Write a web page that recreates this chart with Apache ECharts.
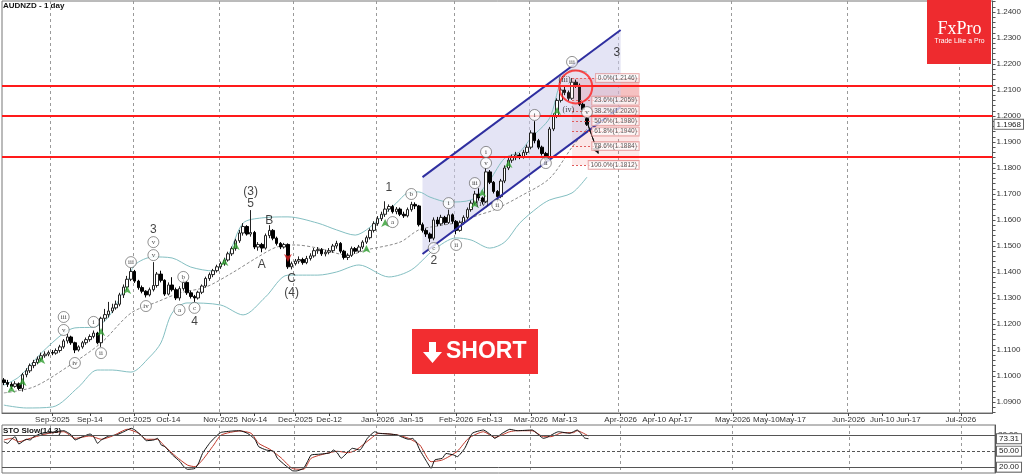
<!DOCTYPE html>
<html><head><meta charset="utf-8">
<script src="https://cdn.jsdelivr.net/npm/echarts@6/dist/echarts.min.js"></script>
<style>html,body{margin:0;padding:0;background:#fff}#c{width:1024px;height:474px}</style>
</head><body><div id="c"></div>
<script>
// ---------- categories (trading days, then calendar days after last candle) ----------
const startDate = '2025-08-13', lastCandleDate = '2026-03-23', endDate = '2026-07-09';
const holidays = ['2025-12-25', '2026-01-01'];
function fmt(d) { return d.toISOString().slice(0, 10); }
const categories = [];
(function () {
  let d = new Date(startDate + 'T00:00:00Z');
  while (fmt(d) <= lastCandleDate) {
    const wd = d.getUTCDay();
    if (wd !== 0 && wd !== 6 && holidays.indexOf(fmt(d)) < 0) categories.push(fmt(d));
    d.setUTCDate(d.getUTCDate() + 1);
  }
  while (fmt(d) <= endDate) { categories.push(fmt(d)); d.setUTCDate(d.getUTCDate() + 1); }
})();

// ---------- tick labels ----------
const tickLabels = [
  ['Sep-2025', '2025-09-01'], ['Sep-14', '2025-09-14'], ['Oct-2025', '2025-10-01'], ['Oct-14', '2025-10-14'],
  ['Nov-2025', '2025-11-01'], ['Nov-14', '2025-11-14'], ['Dec-2025', '2025-12-01'], ['Dec-12', '2025-12-12'],
  ['Jan-2026', '2026-01-01'], ['Jan-15', '2026-01-15'], ['Feb-2026', '2026-02-01'], ['Feb-13', '2026-02-13'],
  ['Mar-2026', '2026-03-01'], ['Mar-13', '2026-03-13'], ['Apr-2026', '2026-04-01'], ['Apr-10', '2026-04-10'],
  ['Apr-17', '2026-04-17'], ['May-2026', '2026-05-01'], ['May-10', '2026-05-10'], ['May-17', '2026-05-17'],
  ['Jun-2026', '2026-06-01'], ['Jun-10', '2026-06-10'], ['Jun-17', '2026-06-17'], ['Jul-2026', '2026-07-01']
];
const priceTicks = [1.09, 1.10, 1.11, 1.12, 1.13, 1.14, 1.15, 1.16, 1.17, 1.18, 1.19, 1.20, 1.21, 1.22, 1.23, 1.24];

// ---------- candles: [open, close, low, high] ----------
const candles = [
[1.0985,1.0975,1.0965,1.0992],[1.0975,1.0968,1.0958,1.0985],[1.0968,1.0960,1.0950,1.0976],[1.0960,1.0970,1.0955,1.0980],
[1.0970,1.0952,1.0945,1.0975],[1.0952,1.1005,1.0940,1.1012],[1.1005,1.1020,1.0995,1.1030],[1.1020,1.1040,1.1012,1.1048],
[1.1040,1.1052,1.1030,1.1062],[1.1052,1.1065,1.1045,1.1075],[1.1065,1.1078,1.1058,1.1090],[1.1078,1.1084,1.1070,1.1095],
[1.1084,1.1090,1.1076,1.1098],[1.1090,1.1088,1.1080,1.1100],[1.1088,1.1098,1.1082,1.1106],[1.1098,1.1112,1.1090,1.1120],
[1.1112,1.1135,1.1105,1.1142],[1.1135,1.1150,1.1125,1.1162],[1.1150,1.1128,1.1120,1.1155],[1.1128,1.1100,1.1088,1.1132],
[1.1100,1.1112,1.1094,1.1118],[1.1112,1.1128,1.1105,1.1135],[1.1128,1.1140,1.1120,1.1148],[1.1140,1.1152,1.1132,1.1160],
[1.1152,1.1165,1.1145,1.1175],[1.1165,1.1128,1.1122,1.1170],[1.1128,1.1222,1.1112,1.1228],[1.1222,1.1236,1.1210,1.1258],
[1.1236,1.1250,1.1225,1.1285],[1.1250,1.1262,1.1242,1.1278],[1.1262,1.1276,1.1255,1.1290],[1.1276,1.1312,1.1268,1.1320],
[1.1312,1.1342,1.1300,1.1352],[1.1342,1.1372,1.1330,1.1385],[1.1372,1.1402,1.1365,1.1415],[1.1402,1.1365,1.1358,1.1408],
[1.1365,1.1340,1.1332,1.1370],[1.1340,1.1326,1.1318,1.1348],[1.1326,1.1312,1.1302,1.1330],[1.1312,1.1332,1.1306,1.1340],
[1.1332,1.1348,1.1325,1.1438],[1.1348,1.1392,1.1340,1.1400],[1.1392,1.1368,1.1360,1.1405],[1.1368,1.1315,1.1308,1.1372],
[1.1315,1.1350,1.1310,1.1360],[1.1350,1.1332,1.1325,1.1380],[1.1332,1.1300,1.1292,1.1340],[1.1300,1.1336,1.1290,1.1345],
[1.1336,1.1360,1.1328,1.1372],[1.1360,1.1320,1.1312,1.1365],[1.1320,1.1306,1.1298,1.1328],[1.1306,1.1300,1.1285,1.1312],
[1.1300,1.1322,1.1294,1.1328],[1.1322,1.1346,1.1315,1.1352],[1.1346,1.1375,1.1340,1.1382],[1.1375,1.1390,1.1366,1.1398],
[1.1390,1.1405,1.1380,1.1412],[1.1405,1.1420,1.1398,1.1428],[1.1420,1.1432,1.1412,1.1440],[1.1432,1.1446,1.1424,1.1455],
[1.1446,1.1470,1.1440,1.1478],[1.1470,1.1490,1.1462,1.1498],[1.1490,1.1520,1.1482,1.1528],[1.1520,1.1550,1.1512,1.1562],
[1.1550,1.1575,1.1540,1.1588],[1.1575,1.1546,1.1540,1.1580],[1.1546,1.1552,1.1536,1.1638],[1.1552,1.1496,1.1488,1.1558],
[1.1496,1.1506,1.1482,1.1515],[1.1506,1.1492,1.1476,1.1512],[1.1492,1.1540,1.1486,1.1548],[1.1540,1.1560,1.1530,1.1580],
[1.1560,1.1530,1.1522,1.1565],[1.1530,1.1510,1.1502,1.1536],[1.1510,1.1496,1.1488,1.1515],[1.1496,1.1506,1.1490,1.1512],
[1.1506,1.1420,1.1412,1.1510],[1.1420,1.1432,1.1410,1.1440],[1.1432,1.1442,1.1425,1.1450],[1.1442,1.1448,1.1432,1.1460],
[1.1448,1.1436,1.1428,1.1455],[1.1436,1.1452,1.1430,1.1462],[1.1452,1.1462,1.1444,1.1472],[1.1462,1.1482,1.1455,1.1492],
[1.1482,1.1486,1.1470,1.1496],[1.1486,1.1470,1.1462,1.1492],[1.1470,1.1476,1.1460,1.1486],[1.1476,1.1482,1.1468,1.1492],
[1.1482,1.1500,1.1474,1.1508],[1.1500,1.1510,1.1490,1.1520],[1.1510,1.1480,1.1472,1.1515],[1.1480,1.1456,1.1448,1.1485],
[1.1456,1.1464,1.1446,1.1472],[1.1464,1.1490,1.1458,1.1498],[1.1490,1.1480,1.1470,1.1496],[1.1480,1.1496,1.1474,1.1504],
[1.1496,1.1515,1.1488,1.1522],[1.1515,1.1532,1.1508,1.1540],[1.1532,1.1560,1.1525,1.1568],[1.1560,1.1586,1.1552,1.1595],
[1.1586,1.1605,1.1578,1.1615],[1.1605,1.1622,1.1596,1.1632],[1.1622,1.1642,1.1612,1.1672],[1.1642,1.1652,1.1632,1.1660],
[1.1652,1.1632,1.1625,1.1658],[1.1632,1.1642,1.1622,1.1650],[1.1642,1.1622,1.1615,1.1648],[1.1622,1.1616,1.1608,1.1632],
[1.1616,1.1640,1.1610,1.1648],[1.1640,1.1660,1.1632,1.1670],[1.1660,1.1654,1.1642,1.1668],[1.1654,1.1582,1.1575,1.1658],
[1.1582,1.1560,1.1552,1.1590],[1.1560,1.1546,1.1535,1.1568],[1.1546,1.1530,1.1515,1.1552],[1.1530,1.1600,1.1522,1.1610],
[1.1600,1.1585,1.1576,1.1612],[1.1585,1.1610,1.1578,1.1620],[1.1610,1.1590,1.1582,1.1616],[1.1590,1.1620,1.1585,1.1640],
[1.1620,1.1595,1.1586,1.1625],[1.1595,1.1560,1.1545,1.1600],[1.1560,1.1590,1.1555,1.1598],[1.1590,1.1610,1.1582,1.1618],
[1.1610,1.1640,1.1602,1.1648],[1.1640,1.1665,1.1632,1.1675],[1.1665,1.1700,1.1658,1.1712],[1.1700,1.1685,1.1675,1.1722],
[1.1685,1.1670,1.1660,1.1690],[1.1670,1.1785,1.1665,1.1800],[1.1785,1.1745,1.1738,1.1792],[1.1745,1.1710,1.1702,1.1750],
[1.1710,1.1690,1.1670,1.1715],[1.1690,1.1750,1.1684,1.1758],[1.1750,1.1800,1.1742,1.1810],[1.1800,1.1830,1.1792,1.1840],
[1.1830,1.1840,1.1820,1.1852],[1.1840,1.1850,1.1830,1.1862],[1.1850,1.1844,1.1834,1.1858],[1.1844,1.1860,1.1836,1.1870],
[1.1860,1.1880,1.1850,1.1890],[1.1880,1.1935,1.1872,1.1945],[1.1935,1.1905,1.1895,1.1980],[1.1905,1.1880,1.1872,1.1912],
[1.1880,1.1856,1.1848,1.1886],[1.1856,1.1832,1.1824,1.1862],[1.1832,1.1950,1.1826,1.1958],[1.1950,1.2000,1.1942,1.2010],
[1.2000,1.2060,1.1992,1.2068],[1.2060,1.2100,1.2052,1.2110],[1.2100,1.2090,1.2080,1.2118],[1.2090,1.2068,1.2058,1.2098],
[1.2068,1.2130,1.2062,1.2146],[1.2130,1.2118,1.2108,1.2140],[1.2118,1.2045,1.2038,1.2125],[1.2045,1.2025,1.2015,1.2052],
[1.1990,1.1968,1.1962,1.2000]
];

// ---------- Bollinger bands: [candle index, price] ----------
const bbUpper = [[0,1.0965],[4,1.0996],[10,1.1088],[16,1.1165],[19,1.1185],[24,1.1188],[28,1.1227],[33,1.1358],[35,1.1427],
[40,1.1458],[45,1.1454],[50,1.1419],[56,1.1404],[60,1.1465],[64,1.1588],[69,1.1608],[76,1.1612],[84,1.1588],[89,1.1562],
[94,1.1542],[97,1.1562],[101,1.1612],[105,1.1665],[108,1.1704],[111,1.1708],[114,1.1688],[119,1.1669],[125,1.1677],
[130,1.1754],[134,1.1838],[138,1.1862],[141,1.1915],[146,1.1992],[149,1.2131],[152,1.2177],[156,1.2169]];
const bbMiddle = [[0,1.0935],[8,1.0958],[17,1.1035],[26,1.1127],[34,1.1242],[41,1.1285],[47,1.1319],[54,1.1342],[61,1.1396],
[68,1.1458],[73,1.1496],[78,1.1504],[84,1.1492],[92,1.1465],[97,1.1485],[106,1.1515],[111,1.1562],[116,1.1577],[122,1.1592],
[127,1.1619],[131,1.1638],[138,1.1690],[146,1.1760],[152,1.1880],[156,1.1950]];
const bbLower = [[0,1.0888],[6,1.0877],[13,1.0881],[20,1.0958],[25,1.1023],[29,1.1023],[34,1.1015],[39,1.1073],[42,1.1127],
[45,1.1242],[49,1.1281],[58,1.1273],[64,1.1235],[70,1.1304],[76,1.1388],[84,1.1388],[89,1.1400],[95,1.1427],[103,1.1381],
[109,1.1408],[115,1.1485],[121,1.1531],[125,1.1523],[130,1.1492],[134,1.1515],[138,1.1588],[143,1.1650],[146,1.1677],
[152,1.1704],[156,1.1765]];

// ---------- Stochastic slow (14,3) ----------
const stoK = [[0,67.6],[1,64.6],[2,72.2],[3,77.1],[4,63.4],[6,72.2],[7,70.9],[8,77.1],[10,83.4],[12,84.6],[16,88.3],[18,80.3],
[19,70.9],[21,77.1],[23,82.1],[24,77.1],[25,64.6],[26,70.9],[28,78.4],[30,80.3],[32,86.4],[34,92.8],[35,89.6],[37,77.1],
[38,69.6],[40,70.9],[41,74.0],[42,61.5],[43,58.4],[45,42.8],[47,30.3],[48,20.9],[49,15.9],[51,17.5],[52,27.9],[53,45.6],
[55,65.8],[57,80.3],[58,85.3],[61,87.8],[63,88.3],[65,83.4],[67,72.2],[68,58.4],[70,52.1],[72,49.7],[73,36.6],[75,24.0],
[77,13.3],[78,12.8],[80,17.8],[81,30.2],[82,42.8],[84,44.1],[86,45.6],[87,46.8],[88,52.1],[89,46.6],[90,36.6],[92,49.7],
[93,55.3],[95,52.1],[97,74.0],[99,86.4],[100,83.4],[103,82.1],[105,80.3],[106,77.1],[108,72.2],[109,74.0],[110,67.6],
[111,52.1],[113,28.4],[114,17.8],[115,33.4],[117,36.6],[118,45.6],[120,42.8],[121,39.6],[123,55.3],[125,83.4],[128,89.6],
[130,80.3],[131,74.0],[133,83.4],[135,90.9],[137,88.3],[141,89.6],[144,74.0],[145,75.9],[148,86.4],[151,83.4],[153,89.6],
[155,74.6],[156,73.31]];
const stoD = [[0,70.9],[2,74.0],[4,67.6],[7,74.0],[12,83.4],[16,86.4],[19,74.0],[23,78.4],[26,72.2],[29,78.4],[33,91.0],
[36,83.4],[38,72.2],[41,72.2],[43,58.4],[46,39.6],[49,23.8],[51,20.9],[53,33.4],[56,61.5],[58,80.3],[63,87.8],[66,83.4],
[68,64.6],[71,53.4],[74,37.3],[77,17.5],[80,15.9],[82,36.6],[86,45.6],[89,49.7],[92,47.1],[94,52.1],[98,74.0],[100,83.4],
[105,80.3],[108,74.0],[111,61.5],[114,30.2],[117,33.4],[121,49.7],[124,74.0],[128,86.4],[131,75.9],[135,86.4],[137,88.3],
[141,88.3],[144,77.1],[146,77.1],[149,84.6],[152,84.6],[153,88.3],[156,78.4]];
const stoLast = 73.31;

// ---------- levels & annotations ----------
const redLevels = [1.2115, 1.2000, 1.1842];
const lastPrice = 1.1968;
const fibLevels = [['0.0%',1.2146],['23.6%',1.2059],['38.2%',1.2020],['50.0%',1.1980],['61.8%',1.1940],['78.6%',1.1884],['100.0%',1.1812]];
const fibStart = 152, fibEnd = 170;
const channelUpper = [[112,1.1765],[165,1.2331]];
const channelLower = [[112,1.1469],[165,1.2035]];
const projectionArrow = [[156,1.1977],[159,1.1856]];
const redCircle = [[153,1.2112]];
const waveText = [['3',40,1.1562],['4',51,1.1208],['(3)',66,1.1708],['5',66,1.1662],['B',71,1.1596],['A',69,1.1427],
['C',77,1.1373],['(4)',77,1.1319],['1',103,1.1723],['2',115,1.1442],['3',164,1.2242]];
const waveParen = [['(iv)',128,1.1662],['(iii)',150,1.2138],['(iv)',151,1.2023]];
const waveCircled = [['iii',16,1.1227],['v',16,1.1177],['iv',19,1.1050],['i',24,1.1208],['ii',26,1.1088],['iii',34,1.1438],
['iv',38,1.1269],['v',40,1.1515],['v',40,1.1465],['b',48,1.1381],['a',47,1.1254],['c',51,1.1262],['a',104,1.1592],
['b',109,1.1700],['c',115,1.1492],['i',119,1.1665],['ii',121,1.1504],['iii',126,1.1742],['i',129,1.1862],['v',129,1.1819],
['ii',132,1.1658],['i',142,1.2004],['ii',145,1.1819],['iii',152,1.2208],['v',156,1.2015]];
const buyArrows = [[2,1.0965],[5,1.0992],[10,1.1077],[26,1.1185],[33,1.1346],[59,1.1454],[62,1.1515],[97,1.1504],
[102,1.1604],[126,1.1677],[128,1.1719],[135,1.1831],[148,1.2035]];
const sellArrows = [[76,1.1438]];

// ---------- helpers ----------
function firstIndexOnOrAfter(date) {
  for (let i = 0; i < categories.length; i++) if (categories[i] >= date) return i;
  return -1;
}
const labelAt = {};
const monthIdx = {};
tickLabels.forEach(function (t) {
  const i = firstIndexOnOrAfter(t[1]);
  labelAt[i] = t[0];
  if (/-20\d\d$/.test(t[0])) monthIdx[i] = true;
});
const priceMinor = [];
for (let k = 0; k <= 79; k++) priceMinor.push(+(1.086 + k * 0.002).toFixed(3));

const FONT = 'Liberation Sans, Arial, sans-serif';
const SERIF = 'Liberation Serif, DejaVu Serif, serif';

const chart = echarts.init(document.getElementById('c'), null, { renderer: 'canvas' });
const fibColors = ['rgba(232,100,100,0.40)','rgba(232,110,110,0.33)','rgba(235,120,120,0.28)','rgba(238,130,130,0.25)','rgba(240,140,140,0.22)','rgba(242,150,150,0.19)'];
const tagStyle = { show: true, position: 'end', distance: 2, fontSize: 8, color: '#222', fontFamily: FONT,
  backgroundColor: '#fff', borderColor: '#666', borderWidth: 1, padding: [1, 2, 0, 2] };
const hiddenLine = { color: 'rgba(0,0,0,0)', width: 0 };

const option = {
  animation: false,
  backgroundColor: '#fff',
  grid: [
    { left: 2, right: 29, top: 1, height: 412, show: true, borderColor: '#777', borderWidth: 1, backgroundColor: 'transparent' },
    { left: 2, right: 29, top: 425, height: 48, show: true, borderColor: '#777', borderWidth: 1, backgroundColor: 'transparent' }
  ],
  xAxis: [
    { type: 'category', gridIndex: 0, data: categories, boundaryGap: true,
      axisLine: { show: true, lineStyle: { color: '#666' } },
      axisTick: { show: true, alignWithLabel: true, length: 3, interval: function (i) { return labelAt[i] !== undefined; }, lineStyle: { color: '#444' } },
      axisLabel: { show: true, interval: function (i) { return labelAt[i] !== undefined; }, formatter: function (v, i) { return labelAt[i] || ''; },
        fontSize: 8, color: '#333', margin: 3, fontFamily: FONT },
      splitLine: { show: true, interval: function (i) { return monthIdx[i] === true; }, lineStyle: { color: '#9a9a9a', type: [3, 3], width: 1 } }
    },
    { type: 'category', gridIndex: 1, data: categories, boundaryGap: true,
      axisLine: { show: false }, axisTick: { show: false }, axisLabel: { show: false },
      splitLine: { show: true, interval: function (i) { return monthIdx[i] === true; }, lineStyle: { color: '#9a9a9a', type: [3, 3], width: 1 } }
    }
  ],
  yAxis: [
    { type: 'value', gridIndex: 0, position: 'right', min: 1.085769, max: 1.244231, scale: true,
      axisLine: { show: true, lineStyle: { color: '#555' } },
      axisTick: { show: true, length: 3, customValues: priceMinor, lineStyle: { color: '#555' } },
      axisLabel: { show: true, customValues: priceTicks, formatter: function (v) { return v.toFixed(4); }, fontSize: 8, color: '#333', margin: 4, fontFamily: FONT },
      splitLine: { show: false }
    },
    { type: 'value', gridIndex: 1, position: 'right', min: 9, max: 99,
      axisLine: { show: true, lineStyle: { color: '#555' } },
      axisTick: { show: false }, axisLabel: { show: false }, splitLine: { show: false }
    }
  ],
  series: [
    // channel fill
    { type: 'custom', xAxisIndex: 0, yAxisIndex: 0, silent: true, z: 1, clip: true,
      renderItem: function (params, api) {
        const pts = [channelUpper[0], channelUpper[1], channelLower[1], channelLower[0]].map(function (p) { return api.coord(p); });
        return { type: 'polygon', shape: { points: pts }, style: { fill: 'rgba(205,205,236,0.55)' } };
      },
      data: [[channelUpper[0][0], channelUpper[0][1]]]
    },
    // Bollinger bands
    { type: 'line', name: 'bbU', data: bbUpper, showSymbol: false, smooth: 0.3, z: 2, silent: true, lineStyle: { color: '#84bfc2', width: 1 } },
    { type: 'line', name: 'bbM', data: bbMiddle, showSymbol: false, smooth: 0.3, z: 2, silent: true, lineStyle: { color: '#8a8a8a', width: 1, type: [3, 2] } },
    { type: 'line', name: 'bbL', data: bbLower, showSymbol: false, smooth: 0.3, z: 2, silent: true, lineStyle: { color: '#84bfc2', width: 1 } },
    // candles
    { type: 'candlestick', name: 'AUDNZD', data: candles, barWidth: 3, z: 3, silent: true,
      itemStyle: { color: '#ffffff', color0: '#000000', borderColor: '#222', borderColor0: '#000', borderWidth: 1 },
      markArea: { silent: true, z: 1,
        data: fibLevels.slice(0, -1).map(function (f, k) {
          return [{ coord: [fibStart, f[1]], itemStyle: { color: fibColors[k] } }, { coord: [fibEnd, fibLevels[k + 1][1]] }];
        })
      },
      markLine: { silent: true, symbol: ['none', 'none'], animation: false, precision: 6,
        data: redLevels.map(function (v) { return { yAxis: v, lineStyle: { color: '#ff1a1a', width: 2, type: 'solid' }, label: { show: false } }; })
          .concat(fibLevels.map(function (f) {
            return [{ coord: [fibStart, f[1]], lineStyle: { color: '#e05a5a', width: 1, type: [2, 2] }, label: { show: false } }, { coord: [fibEnd, f[1]] }];
          }))
          .concat([{ yAxis: lastPrice, lineStyle: hiddenLine, label: Object.assign({}, tagStyle, { formatter: lastPrice.toFixed(4) }) }])
      }
    },
    // channel lines
    { type: 'line', data: channelUpper, showSymbol: false, z: 4, silent: true, lineStyle: { color: '#2f2fa0', width: 2 } },
    { type: 'line', data: channelLower, showSymbol: false, z: 4, silent: true, lineStyle: { color: '#2f2fa0', width: 2 } },
    // projection arrow
    { type: 'line', data: projectionArrow, showSymbol: false, z: 6, silent: true, lineStyle: { color: '#111', width: 1 },
      markLine: { silent: true, precision: 6, symbol: ['none', 'arrow'], symbolSize: 7, lineStyle: { color: '#111', width: 1, type: 'solid' }, label: { show: false },
        data: [[{ coord: projectionArrow[0] }, { coord: projectionArrow[1] }]] } },
    // fib labels
    { type: 'scatter', z: 7, silent: true, symbolSize: 1, itemStyle: { color: 'rgba(0,0,0,0)' },
      data: fibLevels.map(function (f) { return [fibEnd, f[1], f[0] + '(' + f[1].toFixed(4) + ')']; }),
      label: { show: true, position: 'left', distance: 0, formatter: function (p) { return p.value[2]; }, fontSize: 6.5, color: '#333', fontFamily: FONT,
        backgroundColor: 'rgba(255,255,255,0.85)', borderColor: '#e08a8a', borderWidth: 0.8, padding: [1, 2, 0, 2] } },
    // red circle
    { type: 'scatter', z: 8, silent: true, data: redCircle, symbol: 'circle', symbolSize: 33,
      itemStyle: { color: 'rgba(255,200,200,0.15)', borderColor: '#ff2020', borderWidth: 2 } },
    // buy / sell arrows
    { type: 'scatter', z: 9, silent: true, data: buyArrows, symbol: 'arrow', symbolSize: [6, 8], itemStyle: { color: '#2f9e2f' } },
    { type: 'scatter', z: 9, silent: true, data: sellArrows, symbol: 'arrow', symbolRotate: 180, symbolSize: [6, 8], itemStyle: { color: '#d42020' } },
    // circled wave labels
    { type: 'scatter', z: 10, silent: true, symbol: 'circle', symbolSize: 11,
      data: waveCircled.map(function (w) { return [w[1], w[2], w[0]]; }),
      itemStyle: { color: '#fff', borderColor: '#555', borderWidth: 0.8 },
      label: { show: true, position: 'inside', formatter: function (p) { return p.value[2]; }, fontSize: 7, color: '#111', fontFamily: SERIF } },
    // paren wave labels
    { type: 'scatter', z: 10, silent: true, symbolSize: 1, itemStyle: { color: 'rgba(0,0,0,0)' },
      data: waveParen.map(function (w) { return [w[1], w[2], w[0]]; }),
      label: { show: true, position: 'inside', formatter: function (p) { return p.value[2]; }, fontSize: 8, color: '#111', fontFamily: SERIF } },
    // plain wave labels
    { type: 'scatter', z: 10, silent: true, symbolSize: 1, itemStyle: { color: 'rgba(0,0,0,0)' },
      data: waveText.map(function (w) { return [w[1], w[2], w[0]]; }),
      label: { show: true, position: 'inside', formatter: function (p) { return p.value[2]; }, fontSize: 12, color: '#111', fontFamily: FONT } },
    // stochastic
    { type: 'line', xAxisIndex: 1, yAxisIndex: 1, data: stoD, showSymbol: false, smooth: 0.2, z: 3, silent: true, lineStyle: { color: '#c0392b', width: 1 } },
    { type: 'line', xAxisIndex: 1, yAxisIndex: 1, data: stoK, showSymbol: false, smooth: 0.15, z: 4, silent: true, lineStyle: { color: '#111', width: 1 },
      markLine: { silent: true, precision: 4, symbol: ['none', 'none'],
        data: [
          { yAxis: 80, lineStyle: { color: '#555', width: 1, type: 'solid' }, label: { show: true, position: 'end', formatter: '80.00', distance: 3, fontSize: 8, color: '#333', fontFamily: FONT } },
          { yAxis: 50, lineStyle: { color: '#555', width: 1, type: [3, 2] }, label: Object.assign({}, tagStyle, { formatter: '50.00' }) },
          { yAxis: 20, lineStyle: { color: '#555', width: 1, type: 'solid' }, label: Object.assign({}, tagStyle, { formatter: '20.00' }) },
          { yAxis: stoLast, lineStyle: hiddenLine, label: Object.assign({}, tagStyle, { formatter: stoLast.toFixed(2) }) }
        ] } }
  ],
  graphic: [
    { type: 'text', left: 3, top: 2, z: 100, style: { text: 'AUDNZD - 1 day', font: 'bold 8px ' + FONT, fill: '#111' } },
    { type: 'text', left: 3, top: 427, z: 100, style: { text: 'STO Slow(14,3)', font: 'bold 8px ' + FONT, fill: '#111' } },
    // FxPro logo
    { type: 'rect', shape: { x: 927, y: 0, width: 64, height: 64 }, style: { fill: '#ee2b2f' }, z: 100 },
    { type: 'text', x: 959.5, y: 29, z: 101, style: { text: 'FxPro', font: '18px ' + SERIF, fill: '#fff', align: 'center', verticalAlign: 'middle' } },
    { type: 'text', x: 959.5, y: 41.5, z: 101, style: { text: 'Trade Like a Pro', font: '6.8px ' + FONT, fill: '#fff', align: 'center', verticalAlign: 'middle' } },
    // SHORT button
    { type: 'rect', shape: { x: 412, y: 329, width: 126, height: 45 }, style: { fill: '#f22d30' }, z: 100 },
    { type: 'polygon', shape: { points: [[429, 342], [436, 342], [436, 352], [442, 352], [432.5, 363], [423, 352], [429, 352]] }, style: { fill: '#fff' }, z: 101 },
    { type: 'text', x: 446, y: 352, z: 101, style: { text: 'SHORT', font: 'bold 23px ' + FONT, fill: '#fff', align: 'left', verticalAlign: 'middle' } }
  ]
};
chart.setOption(option);
</script></body></html>
